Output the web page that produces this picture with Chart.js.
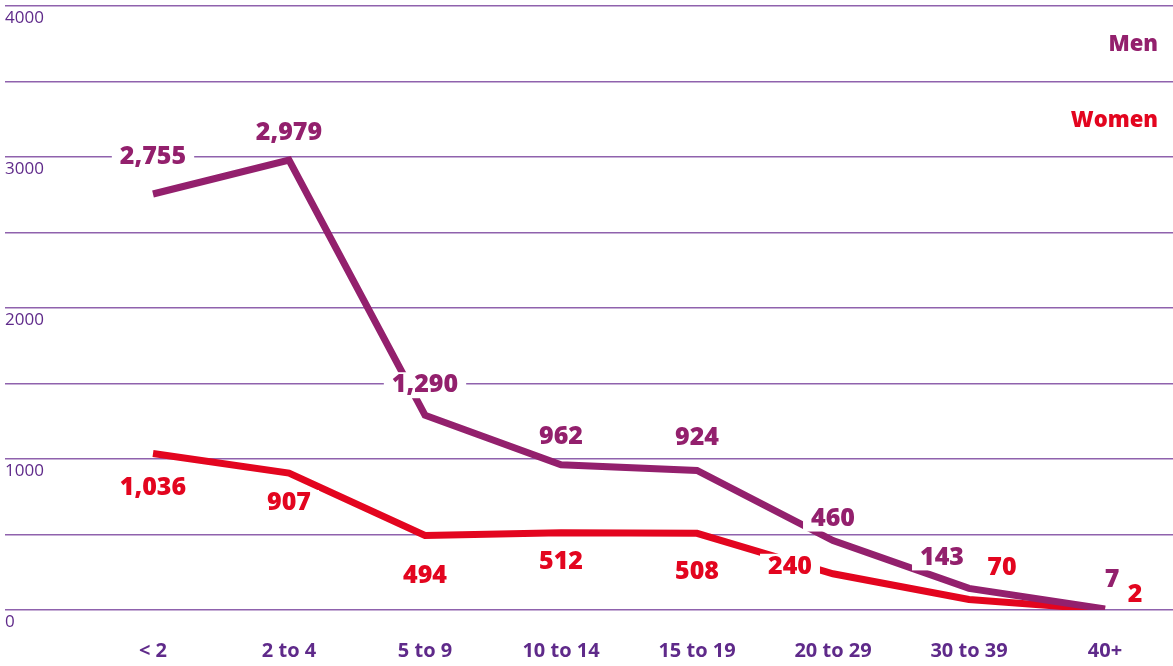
<!DOCTYPE html>
<html>
<head>
<meta charset="utf-8">
<script src="https://cdn.jsdelivr.net/npm/chart.js@4"></script>
<style>
  html, body { margin: 0; padding: 0; background: #fff; }
  #wrap { width: 1173px; height: 666px; }
</style>
</head>
<body>
<div id="wrap"><canvas id="myChart" width="1173" height="666"></canvas></div>
<script>
// data
var ageGroups = ['< 2', '2 to 4', '5 to 9', '10 to 14', '15 to 19', '20 to 29', '30 to 39', '40+'];
var menCounts = [2755, 2979, 1290, 962, 924, 460, 143, 7];
var womenCounts = [1036, 907, 494, 512, 508, 240, 70, 2];
var yTicks = [0, 1000, 2000, 3000, 4000];

// label placement relative to the point (px)
var menLabelShift = [[0, -37], [0, -27], [0, -30], [0, -28], [0, -33], [0, -22], [-27, -31], [7, -29]];
var womenLabelShift = [[0, 34], [0, 30], [0, 40], [0, 29], [0, 39], [-43, -7], [33, -32], [30, -15]];

var MEN = '#93206d';
var WOMEN = '#e3051f';
var AXIS = '#5f2a8a';
var GRID = '#8f62ad';
var FONT = '"Open Sans", "Noto Sans", sans-serif';

var ctx = document.getElementById('myChart');

var valueLabels = {
	id: 'valueLabels',
	afterDatasetsDraw: function(chart) {
		var c = chart.ctx;
		c.save();
		c.font = '800 25px ' + FONT;
		c.textAlign = 'center';
		c.textBaseline = 'middle';
		chart.data.datasets.forEach(function(ds, di) {
			var meta = chart.getDatasetMeta(di);
			var shifts = di === 0 ? menLabelShift : womenLabelShift;
			meta.data.forEach(function(pt, i) {
				var txt = ds.data[i].toLocaleString('en-US');
				var x = pt.x + shifts[i][0];
				var y = pt.y + shifts[i][1];
				var w = c.measureText(txt).width;
				c.fillStyle = '#fff';
				c.fillRect(x - w / 2 - 8, y - 13, w + 16, 26);
				c.fillStyle = ds.borderColor;
				c.fillText(txt, x, y);
			});
		});
		// series names, top right
		c.font = '800 22px ' + FONT;
		c.textAlign = 'right';
		c.fillStyle = MEN;
		c.fillText(chart.data.datasets[0].label, 1158, 45);
		c.fillStyle = WOMEN;
		c.fillText(chart.data.datasets[1].label, 1158, 121);
		c.restore();
	}
};

var myChart = new Chart(ctx, {
	type: 'line',
	data: {
		labels: ageGroups,
		datasets: [
		{
			label: 'Men',
			data: menCounts,
			borderColor: MEN,
			borderWidth: 7,
			pointRadius: 0,
			tension: 0,
			borderJoinStyle: 'miter'
		},
		{
			label: 'Women',
			data: womenCounts,
			borderColor: WOMEN,
			borderWidth: 7,
			pointRadius: 0,
			tension: 0,
			borderJoinStyle: 'miter'
		}]
	},
	options: {
		responsive: false,
		animation: false,
		layout: { padding: { top: 6, right: 0, left: 5, bottom: 0 } },
		plugins: {
			legend: { display: false },
			tooltip: { enabled: false }
		},
		scales: {
			x: {
				offset: true,
				afterFit: function(scale) { scale.height = 56; },
				grid: { display: false, drawTicks: false },
				border: { display: false },
				ticks: {
					color: AXIS,
					padding: 29,
					maxRotation: 0,
					font: { family: FONT, size: 20, weight: 'bold' }
				}
			},
			y: {
				min: 0,
				max: 4000,
				afterFit: function(scale) {
					scale.width = 80;
					scale.paddingTop = 0;
					scale.paddingBottom = 0;
				},
				border: { display: false },
				grid: {
					color: GRID,
					lineWidth: 1.5,
					drawTicks: true,
					tickLength: 80
				},
				ticks: {
					stepSize: 500,
					crossAlign: 'far',
					padding: 0,
					labelOffset: 12,
					color: AXIS,
					font: { family: FONT, size: 17 },
					callback: function(v) {
						return yTicks.indexOf(v) >= 0 ? String(v) : '';
					}
				}
			}
		}
	},
	plugins: [valueLabels]
});
</script>
</body>
</html>
